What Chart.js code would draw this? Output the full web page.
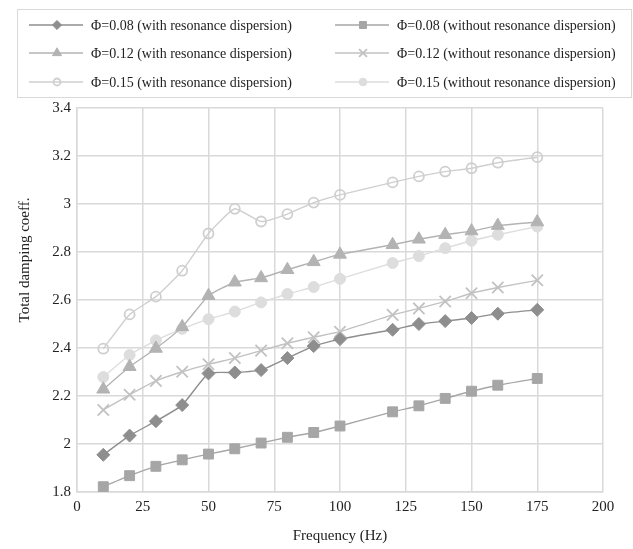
<!DOCTYPE html>
<html>
<head>
<meta charset="utf-8">
<script src="https://cdn.jsdelivr.net/npm/chart.js@4/dist/chart.umd.min.js"></script>
<style>
  html, body { margin: 0; padding: 0; background: #fff; }
  #wrap { width: 633px; height: 549px; position: relative; }
</style>
</head>
<body>
<div id="wrap"><canvas id="myChart" width="633" height="549"></canvas></div>
<script>
// frequency (Hz)
const freq = [10, 20, 30, 40, 50, 60, 70, 80, 90, 100, 120, 130, 140, 150, 160, 175];

// total damping coefficient per case
const phi008With = [1.955, 2.035, 2.095, 2.162, 2.294, 2.298, 2.308, 2.358, 2.408, 2.437, 2.476, 2.500, 2.512, 2.525, 2.543, 2.559];
const phi008Without = [1.822, 1.868, 1.907, 1.934, 1.958, 1.980, 2.004, 2.028, 2.048, 2.075, 2.134, 2.159, 2.190, 2.220, 2.245, 2.273];
const phi012With = [2.228, 2.322, 2.398, 2.488, 2.618, 2.674, 2.692, 2.726, 2.759, 2.790, 2.830, 2.853, 2.872, 2.887, 2.910, 2.925];
const phi012Without = [2.142, 2.205, 2.263, 2.301, 2.332, 2.358, 2.389, 2.420, 2.445, 2.468, 2.538, 2.565, 2.594, 2.628, 2.652, 2.682];
const phi015With = [2.397, 2.540, 2.614, 2.722, 2.877, 2.980, 2.927, 2.958, 3.006, 3.038, 3.090, 3.115, 3.135, 3.149, 3.172, 3.195];
const phi015Without = [2.279, 2.371, 2.432, 2.480, 2.520, 2.552, 2.590, 2.625, 2.654, 2.688, 2.754, 2.783, 2.816, 2.847, 2.872, 2.906];

const labels = [
  "Φ=0.08 (with resonance dispersion)",
  "Φ=0.08 (without resonance dispersion)",
  "Φ=0.12 (with resonance dispersion)",
  "Φ=0.12 (without resonance dispersion)",
  "Φ=0.15 (with resonance dispersion)",
  "Φ=0.15 (without resonance dispersion)"
];

const yTitle = "Total damping coeff.";
const FONT = "'Liberation Serif', 'Times New Roman', serif";

function pts(ys) {
  return freq.map((x, i) => ({ x: x, y: ys[i] }));
}

function series(label, ys, color, style, radius, filled) {
  return {
    label: label,
    data: pts(ys),
    showLine: true,
    borderColor: color,
    borderWidth: 1.4,
    pointStyle: style,
    pointRadius: radius,
    pointHoverRadius: radius,
    pointBackgroundColor: filled ? color : "rgba(0,0,0,0)",
    pointBorderColor: color,
    pointBorderWidth: filled ? 1 : 1.8,
    tension: 0.15
  };
}

var datasets = [
  series(labels[0], phi008With, "#8e8e8e", "rectRot", 6.5, true),
  series(labels[1], phi008Without, "#a6a6a6", "rect", 7, true),
  series(labels[2], phi012With, "#b3b3b3", "triangle", 7.5, true),
  series(labels[3], phi012Without, "#c2c2c2", "crossRot", 8, false),
  series(labels[4], phi015With, "#cfcfcf", "circle", 5, false),
  series(labels[5], phi015Without, "#dddddd", "circle", 5.5, true)
];

// legend drawn on the canvas: line - marker - line, two columns
// plus the y axis title, which sits a bit above the plot's middle
const legendBox = {
  id: "legendBox",
  afterDraw(chart) {
    const ctx = chart.ctx;
    ctx.save();
    ctx.strokeStyle = "#d9d9d9";
    ctx.lineWidth = 1;
    ctx.strokeRect(17.5, 9.5, 614, 88);
    const colX = [29, 335];
    const rowY = [25, 53, 82];
    ctx.font = "14px " + FONT;
    ctx.textBaseline = "middle";
    chart.data.datasets.forEach(function (ds, i) {
      const x0 = colX[i % 2];
      const y = rowY[Math.floor(i / 2)];
      ctx.strokeStyle = ds.borderColor;
      ctx.lineWidth = 1.5;
      ctx.beginPath();
      ctx.moveTo(x0, y);
      ctx.lineTo(x0 + 54, y);
      ctx.stroke();
      ctx.fillStyle = ds.pointBackgroundColor;
      ctx.strokeStyle = ds.pointBorderColor;
      ctx.lineWidth = ds.pointBorderWidth;
      Chart.helpers.drawPoint(ctx, { pointStyle: ds.pointStyle, rotation: 0, radius: ds.pointRadius * 0.7, borderWidth: ds.pointBorderWidth }, x0 + 28, y);
      ctx.fillStyle = "#222";
      ctx.fillText(ds.label, x0 + 62, y + 1);
    });

    ctx.translate(25, 260);
    ctx.rotate(-Math.PI / 2);
    ctx.font = "15px " + FONT;
    ctx.textAlign = "center";
    ctx.fillStyle = "#222";
    ctx.fillText(yTitle, 0, 0);
    ctx.restore();
  }
};

const ctx = document.getElementById("myChart").getContext("2d");
new Chart(ctx, {
  type: "scatter",
  data: { datasets: datasets },
  plugins: [legendBox],
  options: {
    responsive: false,
    animation: false,
    layout: { padding: { top: 108, right: 30, left: 0, bottom: 0 } },
    plugins: {
      legend: { display: false },
      tooltip: { enabled: false }
    },
    scales: {
      x: {
        type: "linear",
        min: 0,
        max: 200,
        afterFit(scale) { scale.height = 57; },
        ticks: { stepSize: 25, color: "#222", padding: 6, font: { family: FONT, size: 15 } },
        grid: { color: "#d9d9d9", lineWidth: 1.5, drawTicks: false },
        border: { color: "#d9d9d9", width: 1.5 },
        title: { display: true, text: "Frequency (Hz)", color: "#222", padding: { top: 4 }, font: { family: FONT, size: 15 } }
      },
      y: {
        min: 1.8,
        max: 3.4,
        afterFit(scale) { scale.width = 77; },
        ticks: { stepSize: 0.2, color: "#222", padding: 6, font: { family: FONT, size: 15 },
          callback: function (v) { return Math.round(v * 10) / 10; } },
        grid: { color: "#d9d9d9", lineWidth: 1.5, drawTicks: false },
        border: { color: "#d9d9d9", width: 1.5 }
      }
    }
  }
});
</script>
</body>
</html>
